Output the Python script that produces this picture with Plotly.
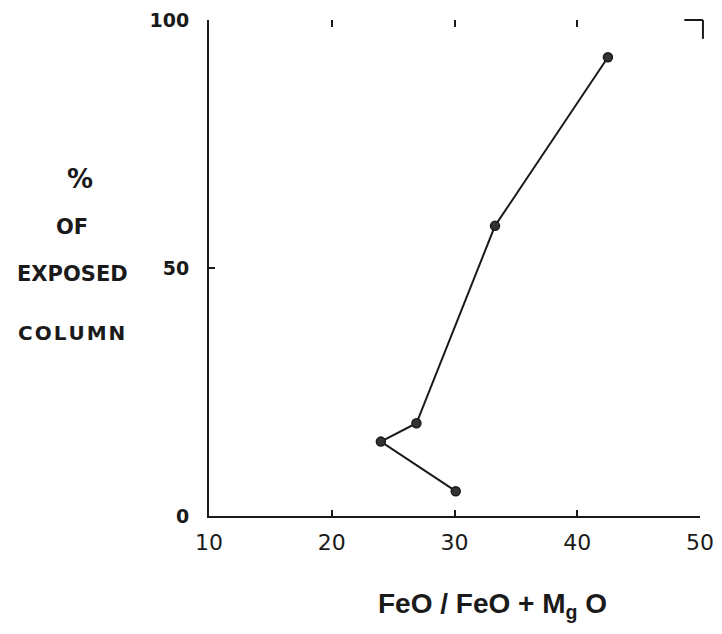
import plotly.graph_objects as go

# Data
fe_ratio = [42.5, 33.3, 26.9, 24.0, 30.1]
pct_exposed = [92.5, 58.5, 18.7, 15.0, 5.0]

x_ticks = [10, 20, 30, 40, 50]
x_tick_labels = ["10", "20", "30", "40", "50"]
y_ticks = [0, 50, 100]
y_tick_labels = ["0", "50", "100"]
top_ticks = [20, 30, 40]

ink = "#1a1a1a"
sans = "DejaVu Sans, sans-serif"
lib = "Liberation Sans, Arial, sans-serif"

# page has an 8px body margin; plot area in page: x 209..700, y 20..516
fig = go.Figure()
fig.add_trace(go.Scatter(
    x=fe_ratio, y=pct_exposed, mode="lines+markers",
    line=dict(color=ink, width=2),
    marker=dict(color="#333", size=9, line=dict(color=ink, width=1.5)),
    showlegend=False, cliponaxis=False,
))
fig.add_trace(go.Scatter(x=top_ticks, y=[None]*len(top_ticks), xaxis="x2",
                         showlegend=False, hoverinfo="skip"))

fig.update_layout(
    width=714, height=626,
    margin=dict(l=201, r=22, t=12, b=118),
    paper_bgcolor="white", plot_bgcolor="white",
    font=dict(family=sans, color=ink),
    xaxis=dict(range=[10, 50], showgrid=False, zeroline=False, automargin=False,
               showline=True, linecolor=ink, linewidth=2,
               ticks="inside", ticklen=6, tickwidth=2, tickcolor=ink,
               tickvals=x_ticks, ticktext=x_tick_labels,
               tickfont=dict(size=22, color=ink, family=sans), ticklabelstandoff=6),
    xaxis2=dict(range=[10, 50], overlaying="x", side="top", showgrid=False,
                automargin=False,
                zeroline=False, showline=False, ticks="inside", ticklen=7,
                tickwidth=2, tickcolor=ink, tickvals=top_ticks,
                showticklabels=False),
    yaxis=dict(range=[0, 100], showgrid=False, zeroline=False, automargin=False,
               showline=True, linecolor=ink, linewidth=2,
               ticks="inside", ticklen=6, tickwidth=2, tickcolor=ink,
               tickvals=y_ticks, ticktext=y_tick_labels,
               tickfont=dict(size=19, color=ink, family=sans, weight="bold"),
               ticklabelstandoff=14),
)

# top-right corner mark
fig.add_shape(type="line", xref="paper", yref="paper", x0=0.968, x1=1.006, y0=1.0, y1=1.0,
              line=dict(color=ink, width=2))
fig.add_shape(type="line", xref="paper", yref="paper", x0=1.006, x1=1.006, y0=1.0, y1=0.962,
              line=dict(color=ink, width=2))

# y-axis title stack
ytitle = [("%", 26, 80, 179), ("OF", 21, 72, 227), ("EXPOSED", 21, 72, 274),
          ("C\u200aO\u200aL\u200aU\u200aM\u200aN", 20, 71, 333)]
for txt, sz, px, py in ytitle:
    fig.add_annotation(text="<b>" + txt + "</b>", xref="paper", yref="paper",
                       x=(px - 209) / 491, y=(516 - py) / 496, showarrow=False,
                       xanchor="center", yanchor="middle",
                       font=dict(size=sz, color=ink, family=sans))

fig.add_annotation(text="<b>FeO / FeO + M<sub>g</sub> O</b>", xref="paper", yref="paper",
                   x=(492 - 209) / 491, y=(516 - 605) / 496, showarrow=False,
                   xanchor="center", yanchor="middle",
                   font=dict(size=28, color=ink, family=lib))

fig.write_html("out.html")
